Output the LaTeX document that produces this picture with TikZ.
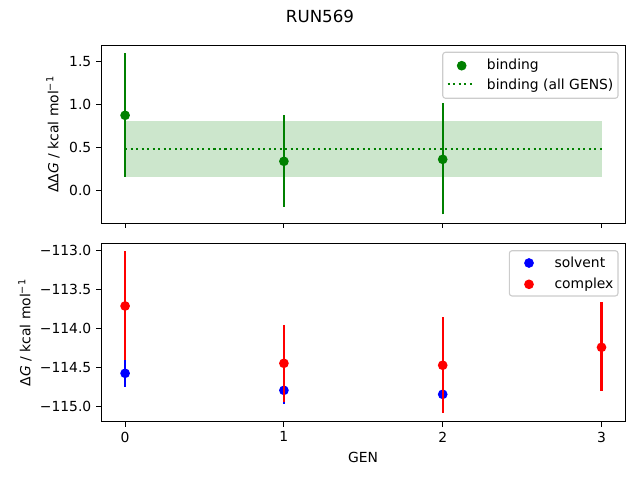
\documentclass[tikz,border=0pt]{standalone}
\usepackage{fontspec}
\setmainfont{DejaVu Sans}
\usetikzlibrary{positioning}
\definecolor{mplgreen}{HTML}{008000}
\definecolor{legedge}{HTML}{CCCCCC}

\begin{document}
\begin{tikzpicture}[x=0.72pt, y=-0.72pt, font=\fontsize{10}{12}\selectfont,
    frame/.style={line width=0.8pt},
    tick/.style={line width=0.8pt},
    bar/.style={line width=1.5pt},
    dot/.style={circle, inner sep=0pt, minimum size=7pt},
    lbl/.style={inner sep=0pt},
    legbox/.style={draw=legedge, fill=white, fill opacity=0.8, rounded corners=2pt, line width=0.8pt}]
    \useasboundingbox (0,0) rectangle (640,480);

    \node(title) at (320,16) {\fontsize{12}{14}\selectfont RUN569};

    % top panel: binding
    \begin{scope}[shift={(125.1,190.3)}, x=114.34pt, y=61.92pt]
        \fill[mplgreen, opacity=0.2] (0,0.151) rectangle (3,0.802);
        \draw[mplgreen, line width=1.5pt, dash pattern=on 1.5pt off 2.475pt] (0,0.484) -- (3,0.484);

        \draw[bar, mplgreen] (0,0.158) -- (0,1.593);
        \node(b0) [dot, fill=mplgreen] at (0,0.872) {};
        \draw[bar, mplgreen] (1,-0.19) -- (1,0.872);
        \node(b1) [dot, fill=mplgreen] at (1,0.337) {};
        \draw[bar, mplgreen] (2,-0.28) -- (2,1.01);
        \node(b2) [dot, fill=mplgreen] at (2,0.36) {};

        \draw[frame] (-0.15,-0.384) rectangle (3.15,1.686);
        \foreach \x in {0,...,3}
            \draw[tick] (\x,-0.384) -- ++(0,-3.5pt);
        \foreach \y in {0.0,0.5,1.0,1.5} {
            \draw[tick] (-0.15,\y) -- ++(-3.5pt,0);
            \node[lbl, left=7pt] at (-0.15,\y) {\y};
        }
    \end{scope}

    \node(ylt) [rotate=90] at (53,134.3) {ΔΔ\textit{G} / kcal mol\textsuperscript{−1}};

    \draw[legbox] (442.7,52.3) rectangle (618,98.3);
    \node(lb) [dot, fill=mplgreen] at (461.7,65.7) {};
    \node[lbl, anchor=base west] at (486.7,69.7) {binding};
    \draw[mplgreen, line width=1.5pt, dash pattern=on 1.5pt off 2.475pt] (447.7,84) -- (475,84);
    \node[lbl, anchor=base west] at (486.7,89.3) {binding (all GENS)};

    % bottom panel: solvent and complex
    \begin{scope}[shift={(125.1,250.3)}, x=114.34pt, y=56.23pt, yshift=113*56.23pt]
        \draw[bar, blue] (0,-114.395) -- (0,-114.755);
        \node(s0) [dot, fill=blue] at (0,-114.575) {};
        \draw[bar, blue] (1,-114.613) -- (1,-114.973);
        \node(s1) [dot, fill=blue] at (1,-114.793) {};
        \draw[bar, blue] (2,-114.744) -- (2,-114.944);
        \node(s2) [dot, fill=blue] at (2,-114.844) {};

        \draw[bar, red] (0,-113.01) -- (0,-114.41);
        \node(c0) [dot, fill=red] at (0,-113.713) {};
        \draw[bar, red] (1,-113.956) -- (1,-114.94);
        \node(c1) [dot, fill=red] at (1,-114.447) {};
        \draw[bar, red] (2,-113.858) -- (2,-115.087);
        \node(c2) [dot, fill=red] at (2,-114.472) {};
        \draw[bar, red] (3,-113.662) -- (3,-114.80);
        \node(c3) [dot, fill=red] at (3,-114.242) {};

        \draw[frame] (-0.15,-115.195) rectangle (3.15,-112.91);
        \foreach \x in {0,...,3} {
            \draw[tick] (\x,-115.195) -- ++(0,-3.5pt);
            \node[lbl, below=7pt] at (\x,-115.195) {\x};
        }
        \foreach \y/\t in {-115.0/−115.0,-114.5/−114.5,-114.0/−114.0,-113.5/−113.5,-113.0/−113.0} {
            \draw[tick] (-0.15,\y) -- ++(-3.5pt,0);
            \node[lbl, left=7pt] at (-0.15,\y) {\t};
        }
    \end{scope}

    \node(ylb) [rotate=90] at (25,332.6) {Δ\textit{G} / kcal mol\textsuperscript{−1}};
    \node(xl) at (363,457.3) {GEN};

    \draw[legbox] (509.3,250.7) rectangle (618,296);
    \node(ls) [dot, fill=blue] at (529,263) {};
    \node[lbl, anchor=base west] at (554.3,267.3) {solvent};
    \node(lc) [dot, fill=red] at (529,284.3) {};
    \node[lbl, anchor=base west] at (554.3,288.3) {complex};
\end{tikzpicture}
\end{document}
